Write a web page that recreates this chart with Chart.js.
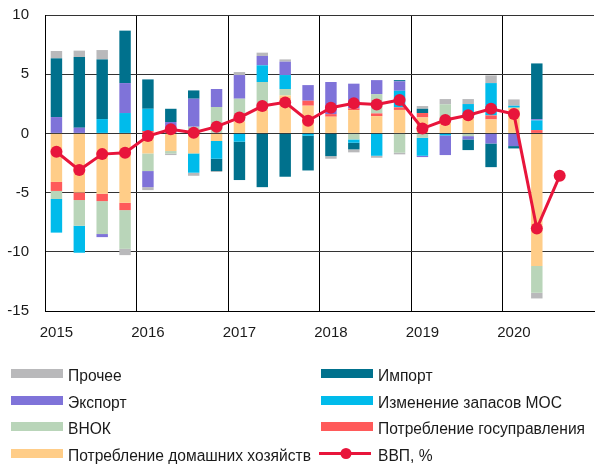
<!DOCTYPE html>
<html>
<head>
<meta charset="utf-8">
<script src="https://cdn.jsdelivr.net/npm/chart.js@4/dist/chart.umd.min.js"></script>
<style>
  html, body { margin: 0; padding: 0; background: #fff; overflow: hidden; width: 595px; height: 464px; }
  #wrap { position: absolute; left: 0; top: 0; width: 600px; height: 345px; }
  #legend { position: absolute; left: 0; top: 0; width: 595px; height: 464px; font-family: "Liberation Sans", Arial, sans-serif; font-size: 15.6px; color: #1a1a1a; }
  .item { position: absolute; height: 20px; white-space: nowrap; }
  .sw { position: absolute; left: 0; width: 52px; height: 9px; }
  .tx { position: absolute; left: 57px; top: -2px; line-height: 18px; }
  svg.sw { height: 14px; }
</style>
</head>
<body>
<div id="wrap"><canvas id="c" width="600" height="345"></canvas></div>
<div id="legend"></div>
<script>
// Quarters 2015 Q1 .. 2020 Q4
const categories = ['2015 Q1','2015 Q2','2015 Q3','2015 Q4','2016 Q1','2016 Q2','2016 Q3','2016 Q4',
  '2017 Q1','2017 Q2','2017 Q3','2017 Q4','2018 Q1','2018 Q2','2018 Q3','2018 Q4',
  '2019 Q1','2019 Q2','2019 Q3','2019 Q4','2020 Q1','2020 Q2','2020 Q3','2020 Q4'];
const tickLabels = ['2015','','','','2016','','','','2017','','','','2018','','','','2019','','','','2020','','',''];

const households = [-4.1, -4.99, -5.1, -5.86, -1.69, -1.49, -1.69, -0.64, 1.0, 2.0, 3.2, 2.34, 1.41, 1.97, 1.46, 1.98, 1.35, 0.9, 1.3, 1.18, 2.17, -11.2, null, null];
const government = [-0.76, -0.64, -0.62, -0.62, 0.2, 0, 0, 0, 0, 0, 0, 0.42, 0.22, 0.15, 0.23, 0.22, 0.37, 0, 0, 0.34, 0, 0.28, null, null];
const gfcf = [-0.68, -2.17, -2.78, -3.27, -1.49, -0.21, 0.56, 2.23, 1.93, 2.34, 0.55, 0, 0, -0.51, 1.63, -1.63, -0.37, 1.56, -0.23, 0, 0, -2.26, null, null];
const inventories = [-2.84, -2.28, 1.21, 1.72, 1.88, 0, -1.63, -1.5, -0.7, 1.41, 1.18, -0.2, 0, -0.28, -1.89, 1.4, -1.52, -0.17, 1.18, 2.73, 0.17, 0.82, null, null];
const exports = [1.38, 0.48, -0.26, 2.53, -1.36, 0.96, 2.37, 1.52, 2.0, 0.79, 1.13, 1.32, 2.71, 2.08, 1.18, 0.8, -0.11, -1.66, -0.28, -0.85, -1.07, 0.1, null, null];
const imports = [4.96, 5.97, 5.04, 4.43, 2.48, 1.12, 0.7, -1.04, -3.24, -4.54, -3.66, -2.93, -1.92, -0.56, 0, 0.1, 0.36, 0, -0.9, -2.0, -0.2, 4.71, null, null];
const other = [0.62, 0.54, 0.79, -0.53, -0.25, -0.13, -0.26, -0.08, 0.25, 0.28, 0.19, 0, -0.22, -0.25, -0.17, -0.14, 0.23, 0.44, 0.42, 0.65, 0.53, -0.48, null, null];
const gdp = [-1.55, -3.1, -1.75, -1.63, -0.23, 0.35, 0.06, 0.57, 1.34, 2.31, 2.62, 1.07, 2.17, 2.54, 2.45, 2.82, 0.41, 1.13, 1.53, 2.08, 1.63, -8.03, -3.58, null];

const yTicks = [10, 5, 0, -5, -10, -15];

const names = {
  other: 'Прочее', imports: 'Импорт', exports: 'Экспорт', inventories: 'Изменение запасов МОС',
  gfcf: 'ВНОК', government: 'Потребление госуправления', households: 'Потребление домашних хозяйств', gdp: 'ВВП, %'
};
const colors = {
  other: '#b9b9bb', imports: '#00718d', exports: '#7f73d9', inventories: '#00bbeb',
  gfcf: '#b9d5b9', government: '#ff5a5a', households: '#ffcd88', gdp: '#e8153b'
};

function bar(key, data) {
  return { type: 'bar', label: names[key], data: data, backgroundColor: colors[key], borderWidth: 0,
    categoryPercentage: 1.0, barPercentage: 0.5, stack: 'g', order: 1 };
}

const datasets = [
  { type: 'line', label: names.gdp, data: gdp, borderColor: colors.gdp, backgroundColor: colors.gdp,
    borderWidth: 3, pointRadius: 6, pointHoverRadius: 6, pointBackgroundColor: colors.gdp, pointBorderWidth: 0,
    stack: 'line', order: 0, tension: 0 },
  bar('households', households),
  bar('government', government),
  bar('gfcf', gfcf),
  bar('inventories', inventories),
  bar('exports', exports),
  bar('imports', imports),
  bar('other', other)
];

const font = { family: '"Liberation Sans", Arial, sans-serif', size: 15 };

new Chart(document.getElementById('c'), {
  type: 'bar',
  data: { labels: categories, datasets: datasets },
  options: {
    responsive: false,
    animation: false,
    devicePixelRatio: 1,
    layout: { padding: { top: 15, left: 0, right: 2, bottom: 0 } },
    plugins: { legend: { display: false }, tooltip: { enabled: false } },
    scales: {
      x: {
        stacked: true,
        offset: true,
        grid: {
          offset: true, drawTicks: false, lineWidth: 1,
          color: (ctx) => (ctx.index % 4 === 0 && ctx.index > 0) ? '#000' : 'rgba(0,0,0,0)'
        },
        border: { display: true, color: '#000', width: 1 },
        ticks: { autoSkip: false, maxRotation: 0, padding: 13, color: '#1a1a1a', font: font,
          callback: (v, i) => tickLabels[i] },
        afterFit: (s) => { s.height = 34; s.paddingLeft = 0; s.paddingRight = 0; }
      },
      y: {
        stacked: true,
        min: -15, max: 10,
        afterBuildTicks: (s) => { s.ticks = yTicks.map(v => ({ value: v })); },
        grid: { drawTicks: false, color: '#333', lineWidth: 1 },
        border: { display: true, color: '#000', width: 1 },
        ticks: { padding: 16, color: '#1a1a1a', font: font },
        afterFit: (s) => { s.width = 45; s.paddingTop = 0; s.paddingBottom = 0; }
      }
    }
  }
});

// HTML legend in two columns
const legendLayout = [
  ['other', 11, 369], ['exports', 11, 396], ['gfcf', 11, 422], ['households', 11, 449],
  ['imports', 321, 369], ['inventories', 321, 396], ['government', 321, 422], ['gdp', 321, 449]
];
const lg = document.getElementById('legend');
legendLayout.forEach(([key, x, y]) => {
  const it = document.createElement('div');
  it.className = 'item';
  it.style.left = x + 'px';
  it.style.top = y + 'px';
  if (key === 'gdp') {
    it.innerHTML = '<svg class="sw" width="54" height="14" style="top:-2px;left:-2px" xmlns="http://www.w3.org/2000/svg">' +
      '<line x1="0" y1="6.5" x2="54" y2="6.5" stroke="' + colors.gdp + '" stroke-width="3"/>' +
      '<circle cx="27" cy="6.5" r="5.5" fill="' + colors.gdp + '"/></svg>';
  } else {
    it.innerHTML = '<div class="sw" style="background:' + colors[key] + '"></div>';
  }
  const t = document.createElement('div');
  t.className = 'tx';
  t.textContent = names[key];
  it.appendChild(t);
  lg.appendChild(it);
});
</script>
</body>
</html>
